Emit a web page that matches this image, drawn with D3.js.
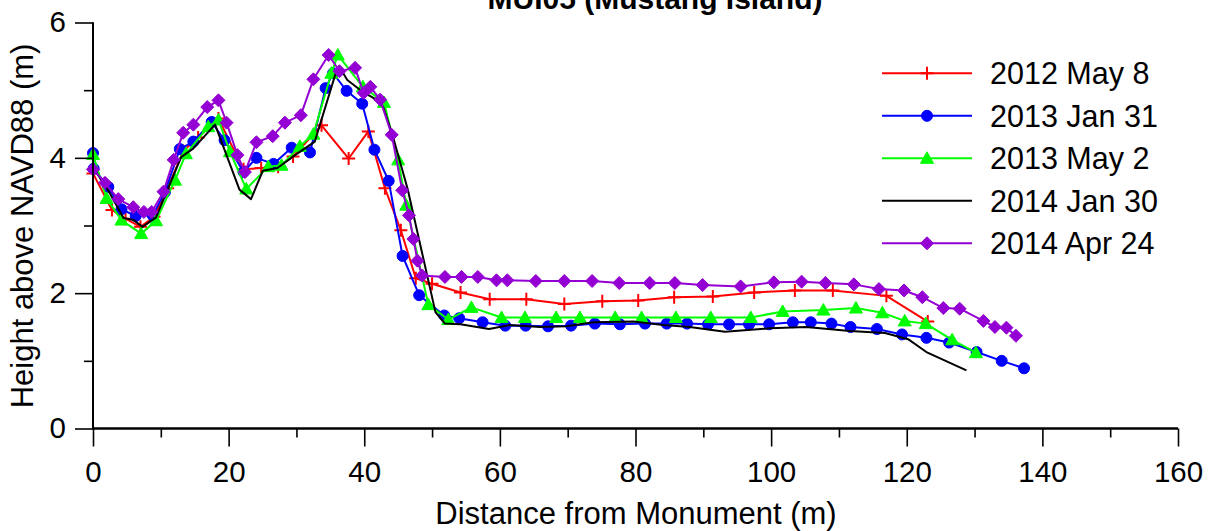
<!DOCTYPE html>
<html><head><meta charset="utf-8">
<script src="https://cdn.jsdelivr.net/npm/d3@7"></script>
<style>
html,body{margin:0;padding:0;background:#fff;}
svg{display:block;}
text{font-family:"Liberation Sans",Arial,sans-serif;fill:#000;}
</style></head>
<body>
<svg id="chart" width="1209" height="531"></svg>
<script>
// ---- data (distance m, height m) ----
const title = "MUI05 (Mustang Island)";
const xLabel = "Distance from Monument (m)";
const yLabel = "Height above NAVD88 (m)";
const xTicks = [0,20,40,60,80,100,120,140,160];
const xMinorTicks = [10,30,50,70,90,110,130,150];
const yTicks = [0,2,4,6];
const yMinorTicks = [1,3,5];
const seriesNames = ["2012 May 8","2013 Jan 31","2013 May 2","2014 Jan 30","2014 Apr 24"];

const may2012 = [[0,3.77],[2.8,3.23],[4.8,3.1],[7.0,2.98],[9.0,3.13],[11.0,3.55],[13.3,4.1],[15.5,4.3],[18.5,4.58],[22.2,3.83],[24.8,3.85],[27.3,3.87],[29.5,4.02],[33.7,4.48],[37.7,3.99],[40.6,4.39],[43.05,3.55],[45.4,2.93],[47.6,2.22],[50.0,2.14],[54.2,2.01],[58.5,1.91],[63.9,1.91],[69.5,1.84],[75.1,1.88],[80.4,1.89],[85.7,1.94],[91.4,1.95],[97.5,2.01],[103.5,2.04],[109.1,2.04],[117.0,1.96],[123.1,1.58]];
const jan2013 = [[0,4.07],[0.1,3.84],[2.26,3.57],[4.2,3.24],[6.3,3.14],[8.8,3.15],[10.6,3.49],[12.8,4.13],[14.8,4.24],[17.5,4.53],[19.4,4.26],[22.2,3.79],[24.1,4.0],[26.6,3.91],[29.3,4.15],[32.0,4.08],[34.3,5.03],[35.4,5.25],[37.4,4.99],[39.7,4.8],[41.5,4.12],[43.6,3.66],[45.65,2.55],[48.1,1.97],[51.8,1.67],[54.0,1.63],[57.45,1.57],[60.8,1.52],[63.8,1.52],[67.1,1.51],[70.5,1.52],[74.0,1.55],[77.7,1.54],[81.4,1.55],[84.6,1.55],[87.6,1.55],[90.7,1.54],[93.8,1.54],[96.75,1.54],[99.7,1.54],[103.2,1.57],[105.85,1.57],[108.9,1.55],[111.7,1.5],[115.6,1.47],[119.3,1.39],[122.9,1.34],[126.25,1.27],[130.3,1.13],[134.0,1.0],[137.3,0.89]];
const may2013 = [[0,4.05],[2.0,3.40],[4.2,3.08],[7.1,2.88],[9.3,3.07],[12.1,3.67],[13.7,4.06],[17.0,4.46],[18.5,4.56],[20.2,4.09],[22.6,3.54],[25.85,3.87],[27.8,3.89],[30.5,4.17],[32.5,4.35],[35.15,5.25],[36.1,5.52],[39.8,5.05],[42.9,4.82],[45.0,3.97],[46.2,3.3],[49.45,1.83],[52.4,1.61],[55.8,1.79],[60.25,1.64],[63.7,1.64],[68.3,1.64],[71.8,1.64],[77.0,1.64],[80.9,1.64],[85.95,1.64],[91.1,1.64],[97.0,1.64],[101.7,1.73],[107.7,1.75],[112.5,1.78],[116.4,1.71],[119.7,1.59],[122.8,1.55],[126.7,1.31],[130.2,1.12]];
const jan2014 = [[0,3.85],[1.9,3.58],[4.5,3.11],[6.0,3.08],[7.3,2.98],[9.3,3.12],[13.0,4.01],[14.8,4.14],[18.0,4.49],[21.6,3.53],[23.3,3.39],[25.05,3.81],[27.2,3.85],[29.8,4.04],[32.7,4.24],[35.7,5.22],[36.3,5.35],[37.5,5.15],[39.7,4.98],[41.8,4.86],[42.8,4.75],[44.1,4.36],[46.4,3.54],[50.5,1.72],[51.9,1.55],[54.2,1.54],[58.4,1.47],[61.5,1.53],[65.9,1.50],[69.8,1.51],[73.8,1.57],[79.7,1.58],[84.1,1.53],[88.0,1.50],[93.2,1.43],[99.8,1.48],[105.2,1.50],[111.6,1.44],[116.8,1.41],[120.2,1.32],[122.9,1.13],[128.8,0.86]];
const apr2014 = [[0,3.83],[1.77,3.63],[3.73,3.39],[5.94,3.27],[7.5,3.2],[8.65,3.2],[10.4,3.5],[11.9,3.97],[13.3,4.37],[14.8,4.49],[16.85,4.75],[18.5,4.85],[19.7,4.52],[21.3,4.04],[22.4,3.79],[24.1,4.23],[26.5,4.32],[28.3,4.52],[30.65,4.63],[32.5,5.16],[34.75,5.52],[36.35,5.28],[38.65,5.33],[39.9,4.96],[40.9,5.05],[42.35,4.86],[44.05,4.34],[45.6,3.52],[46.6,3.15],[47.25,2.8],[47.85,2.48],[48.55,2.26],[51.9,2.24],[54.35,2.24],[56.75,2.24],[59.5,2.19],[61.1,2.19],[65.3,2.18],[69.5,2.18],[73.6,2.18],[77.6,2.15],[82.1,2.15],[85.8,2.15],[89.9,2.12],[95.5,2.1],[100.4,2.16],[104.5,2.17],[108.0,2.15],[112.2,2.13],[115.9,2.06],[119.6,2.04],[122.3,1.94],[125.4,1.78],[127.8,1.77],[131.3,1.59],[133.0,1.5],[134.7,1.49],[136.1,1.37]];

const series = [
  {name: seriesNames[0], data: may2012, color: "#ff0000", marker: "plus"},
  {name: seriesNames[1], data: jan2013, color: "#0000ff", marker: "circle"},
  {name: seriesNames[2], data: may2013, color: "#00ff00", marker: "triangle"},
  {name: seriesNames[3], data: jan2014, color: "#000000", marker: "none"},
  {name: seriesNames[4], data: apr2014, color: "#9400d3", marker: "diamond"}
];

// ---- layout ----
const svg = d3.select("#chart");
const x = d3.scaleLinear().domain([0,160]).range([93,1178]);
const y = d3.scaleLinear().domain([0,6]).range([428.5,22.5]);
const FS = 29.5;
const FS_LABEL = 31;
const FS_LEG = 30.5;

function markerPath(type){
  switch(type){
    case "plus": return "M-6.5,0H6.5M0,-6.5V6.5";
    case "circle": return "M5.5,0A5.5,5.5 0 1 1 -5.5,0A5.5,5.5 0 1 1 5.5,0Z";
    case "triangle": return "M0,-6.5L6.5,5L-6.5,5Z";
    case "diamond": return "M0,-6.5L6.5,0L0,6.5L-6.5,0Z";
  }
  return null;
}
function drawMarker(g, type, color){
  const p = markerPath(type);
  if(!p) return;
  if(type==="plus"){
    g.append("path").attr("d",p).attr("stroke",color).attr("stroke-width",2).attr("fill","none");
  } else {
    g.append("path").attr("d",p).attr("fill",color).attr("stroke",color).attr("stroke-width",1);
  }
}

// ---- series ----
const line = d3.line().x(d=>x(d[0])).y(d=>y(d[1]));
series.forEach(s=>{
  const g = svg.append("g");
  g.append("path").datum(s.data).attr("d",line)
    .attr("fill","none").attr("stroke",s.color).attr("stroke-width",2).attr("stroke-linejoin","round");
  if(s.marker!=="none"){
    g.selectAll("g.m").data(s.data).join("g").attr("class","m")
      .attr("transform",d=>`translate(${x(d[0])},${y(d[1])})`)
      .each(function(){ drawMarker(d3.select(this), s.marker, s.color); });
  }
});

// ---- axes ----
const xAxis = svg.append("g").attr("transform",`translate(0,${y(0)})`)
  .call(d3.axisBottom(x).tickValues(xTicks).tickSize(18).tickPadding(15).tickFormat(d3.format("d")));
const xMinor = svg.append("g").attr("transform",`translate(0,${y(0)})`)
  .call(d3.axisBottom(x).tickValues(xMinorTicks).tickSize(9).tickFormat(""));
const yAxis = svg.append("g").attr("transform",`translate(${x(0)},0)`)
  .call(d3.axisLeft(y).tickValues(yTicks).tickSize(18).tickPadding(9).tickFormat(d3.format("d")));
const yMinor = svg.append("g").attr("transform",`translate(${x(0)},0)`)
  .call(d3.axisLeft(y).tickValues(yMinorTicks).tickSize(9).tickFormat(""));
[xAxis,xMinor,yAxis,yMinor].forEach(a=>{
  a.select(".domain").attr("stroke","#000").attr("stroke-width",2)
    .attr("d", a===xAxis||a===xMinor ? `M${x(0)},0H${x(160)}` : `M0,${y(0)}V${y(6)}`);
  a.selectAll(".tick line").attr("stroke","#000").attr("stroke-width",1.6);
  a.selectAll(".tick text").attr("font-size",FS).attr("font-family","Liberation Sans, Arial, sans-serif").attr("fill","#000");
});

// ---- labels ----
svg.append("text").attr("x",655).attr("y",9).attr("text-anchor","middle")
  .attr("font-size",30).attr("font-weight","bold").text(title);
svg.append("text").attr("x",636).attr("y",524).attr("text-anchor","middle")
  .attr("font-size",FS_LABEL).text(xLabel);
svg.append("text").attr("transform","translate(33,226) rotate(-90)").attr("text-anchor","middle")
  .attr("font-size",FS_LABEL).text(yLabel);

// ---- legend ----
const leg = svg.append("g");
series.forEach((s,i)=>{
  const cy = 73.3 + i*42.5;
  const g = leg.append("g").attr("transform",`translate(0,${cy})`);
  g.append("line").attr("x1",882).attr("x2",972).attr("y1",0).attr("y2",0)
    .attr("stroke",s.color).attr("stroke-width",2);
  const mg = g.append("g").attr("transform","translate(927,0)");
  drawMarker(mg, s.marker, s.color);
  g.append("text").attr("x",990).attr("y",11).attr("font-size",FS_LEG).text(s.name);
});
</script>
</body></html>
